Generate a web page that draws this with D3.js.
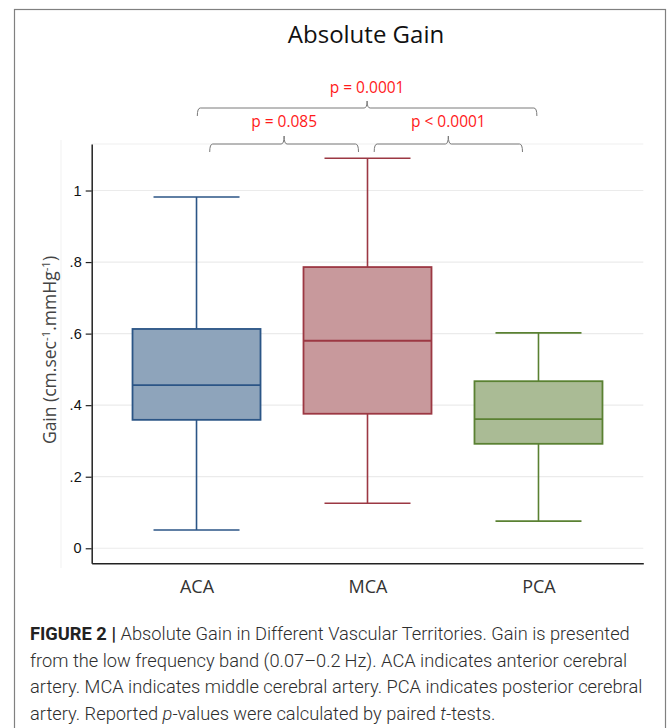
<!DOCTYPE html>
<html>
<head>
<meta charset="utf-8">
<script src="https://cdn.jsdelivr.net/npm/d3@7/dist/d3.min.js"></script>
<style>
  html, body { margin: 0; padding: 0; background: #fff; }
  svg { display: block; }
</style>
</head>
<body>
<svg id="chart" width="670" height="728"></svg>
<script>
// ---- data ----
const categories   = ["ACA", "MCA", "PCA"];
const whiskerLow   = [0.051, 0.126, 0.076];
const q1           = [0.359, 0.376, 0.292];
const median       = [0.456, 0.580, 0.361];
const q3           = [0.613, 0.786, 0.467];
const whiskerHigh  = [0.982, 1.090, 0.602];
const yTicks       = [0, 0.2, 0.4, 0.6, 0.8, 1];
const yTickLabels  = ["0", ".2", ".4", ".6", ".8", "1"];
const compFrom     = ["ACA", "ACA", "MCA"];
const compTo       = ["PCA", "MCA", "PCA"];
const compLabels   = ["p = 0.0001", "p = 0.085", "p < 0.0001"];
const compLevel    = [1, 0, 0];
const titleText    = "Absolute Gain";
const captionLines = [
  [{t:"FIGURE 2 | ", b:true}, {t:"Absolute Gain in Different Vascular Territories. Gain is presented"}],
  [{t:"from the low frequency band (0.07\u20130.2\u2009Hz). ACA indicates anterior cerebral"}],
  [{t:"artery. MCA indicates middle cerebral artery. PCA indicates posterior cerebral"}],
  [{t:"artery. Reported "}, {t:"p", i:true}, {t:"-values were calculated by paired "}, {t:"t", i:true}, {t:"-tests."}]
];

// ---- styles ----
const strokeCol = {ACA: "#2b5586", MCA: "#9c3843", PCA: "#5a8132"};
const fillCol   = {ACA: "#8ea4bb", MCA: "#c8999c", PCA: "#aabb95"};

const svg = d3.select("#chart");

// outer frame
svg.append("rect")
  .attr("x", 14.5).attr("y", 9.5).attr("width", 651).attr("height", 740)
  .attr("fill", "none").attr("stroke", "#808080").attr("stroke-width", 1.2);

// scales
const x = d3.scalePoint().domain(categories).range([91.7, 643.3]).padding(0.613);
const y = d3.scaleLinear().domain([-0.042, 1.13]).range([563.3, 144]);

// faint plot region lines
svg.append("line").attr("x1", 61).attr("x2", 61).attr("y1", 140).attr("y2", 568)
  .attr("stroke", "#f1f1f1").attr("stroke-width", 1);
svg.append("line").attr("x1", 91.7).attr("x2", 643.3).attr("y1", y(1.13)).attr("y2", y(1.13))
  .attr("stroke", "#efefef").attr("stroke-width", 1);

// gridlines
svg.append("g").selectAll("line").data(yTicks).join("line")
  .attr("x1", 91.7).attr("x2", 643.3)
  .attr("y1", d => y(d)).attr("y2", d => y(d))
  .attr("stroke", "#ebebeb").attr("stroke-width", 1.2);

// y axis
const yAxis = svg.append("g").attr("transform", "translate(91.7,0)")
  .call(d3.axisLeft(y).tickValues(yTicks).tickFormat((d, i) => yTickLabels[i])
    .tickSize(6).tickSizeOuter(0).tickPadding(4));
yAxis.select(".domain").attr("stroke", "#222").attr("stroke-width", 1.5);
yAxis.selectAll(".tick line").attr("stroke", "#222").attr("stroke-width", 1.2);
yAxis.selectAll(".tick text").attr("fill", "#111")
  .style("font-family", "'Liberation Sans', Arial, sans-serif").style("font-size", "14.5px");

// x axis
const xAxis = svg.append("g").attr("transform", "translate(0,563.3)")
  .call(d3.axisBottom(x).tickSize(0).tickSizeOuter(0));
xAxis.select(".domain").attr("stroke", "#222").attr("stroke-width", 1.5);
xAxis.selectAll(".tick text").attr("y", 29.4).attr("dy", 0).attr("fill", "#333")
  .style("font-family", "'Open Sans', sans-serif").style("font-size", "18px");

// boxes
const boxW = 128, capW = 86;
const data = categories.map((c, i) => ({c, lo: whiskerLow[i], q1: q1[i], med: median[i], q3: q3[i], hi: whiskerHigh[i]}));
const g = svg.append("g").selectAll("g").data(data).join("g");
g.append("line").attr("x1", d => x(d.c)).attr("x2", d => x(d.c))
  .attr("y1", d => y(d.hi)).attr("y2", d => y(d.q3))
  .attr("stroke", d => strokeCol[d.c]).attr("stroke-width", 1.6);
g.append("line").attr("x1", d => x(d.c)).attr("x2", d => x(d.c))
  .attr("y1", d => y(d.q1)).attr("y2", d => y(d.lo))
  .attr("stroke", d => strokeCol[d.c]).attr("stroke-width", 1.6);
["hi", "lo"].forEach(k => {
  g.append("line").attr("x1", d => x(d.c) - capW / 2).attr("x2", d => x(d.c) + capW / 2)
    .attr("y1", d => y(d[k])).attr("y2", d => y(d[k]))
    .attr("stroke", d => strokeCol[d.c]).attr("stroke-width", 1.6);
});
g.append("rect").attr("x", d => x(d.c) - boxW / 2).attr("width", boxW)
  .attr("y", d => y(d.q3)).attr("height", d => y(d.q1) - y(d.q3))
  .attr("fill", d => fillCol[d.c]).attr("stroke", d => strokeCol[d.c]).attr("stroke-width", 1.8);
g.append("line").attr("x1", d => x(d.c) - boxW / 2).attr("x2", d => x(d.c) + boxW / 2)
  .attr("y1", d => y(d.med)).attr("y2", d => y(d.med))
  .attr("stroke", d => strokeCol[d.c]).attr("stroke-width", 1.8);

// brackets
const levelY = [{h: 144, tip: 152, top: 136, text: 127}, {h: 108, tip: 116, top: 101, text: 92.5}];
const insets = [[13.2, 9], [6.7, 16], [0.8, 1.6]];
function bracketPath(x1, x2, L) {
  const cx = (x1 + x2) / 2, r = 3;
  return `M${x1},${L.tip} Q${x1},${L.h} ${x1 + r},${L.h} L${cx - r},${L.h} Q${cx},${L.h} ${cx},${L.top} ` +
         `Q${cx},${L.h} ${cx + r},${L.h} L${x2 - r},${L.h} Q${x2},${L.h} ${x2},${L.tip}`;
}
compLabels.forEach((lab, i) => {
  const L = levelY[compLevel[i]];
  const ins = compLevel[i] === 1 ? insets[2] : (compFrom[i] === "ACA" ? insets[0] : insets[1]);
  const x1 = x(compFrom[i]) + ins[0], x2 = x(compTo[i]) - ins[1];
  svg.append("path").attr("d", bracketPath(x1, x2, L))
    .attr("fill", "none").attr("stroke", "#7a7a7a").attr("stroke-width", 1);
  svg.append("text").attr("x", (x1 + x2) / 2).attr("y", L.text)
    .attr("text-anchor", "middle").attr("fill", "#ff1a1a")
    .style("font-family", "'Open Sans', sans-serif").style("font-size", "15.5px")
    .text(lab);
});

// title
svg.append("text").attr("x", 366).attr("y", 43).attr("text-anchor", "middle")
  .attr("fill", "#111").style("font-family", "'Open Sans', sans-serif").style("font-size", "24px")
  .text(titleText);

// y axis title
const yt = svg.append("text").attr("transform", "translate(56,350) rotate(-90)")
  .attr("text-anchor", "middle").attr("fill", "#444")
  .style("font-family", "'Open Sans', sans-serif").style("font-size", "17.5px");
yt.append("tspan").text("Gain (cm.sec");
yt.append("tspan").attr("dy", -6).style("font-size", "11.5px").text("-1");
yt.append("tspan").attr("dy", 6).text(".mmHg");
yt.append("tspan").attr("dy", -6).style("font-size", "11.5px").text("-1");
yt.append("tspan").attr("dy", 6).text(")");

// caption
const capBase = [640, 666.5, 693, 719.5];
const capFont = "Roboto, 'Liberation Sans', sans-serif";
const capTexts = captionLines.map((parts, li) => {
  const t = svg.append("text").attr("x", 30).attr("y", capBase[li]).attr("fill", "#2e2e2e")
    .style("font-family", capFont).style("font-size", "17px").style("font-weight", 300);
  parts.forEach(p => {
    const s = t.append("tspan").text(p.t);
    if (p.b) s.style("font-weight", 700).attr("fill", "#222");
    if (p.i) s.style("font-style", "italic");
  });
  return t;
});
const w2 = capTexts[2].node().getComputedTextLength();
const fs = 17 * 613 / w2;
capTexts.forEach(t => t.style("font-size", fs + "px"));
</script>
</body>
</html>
